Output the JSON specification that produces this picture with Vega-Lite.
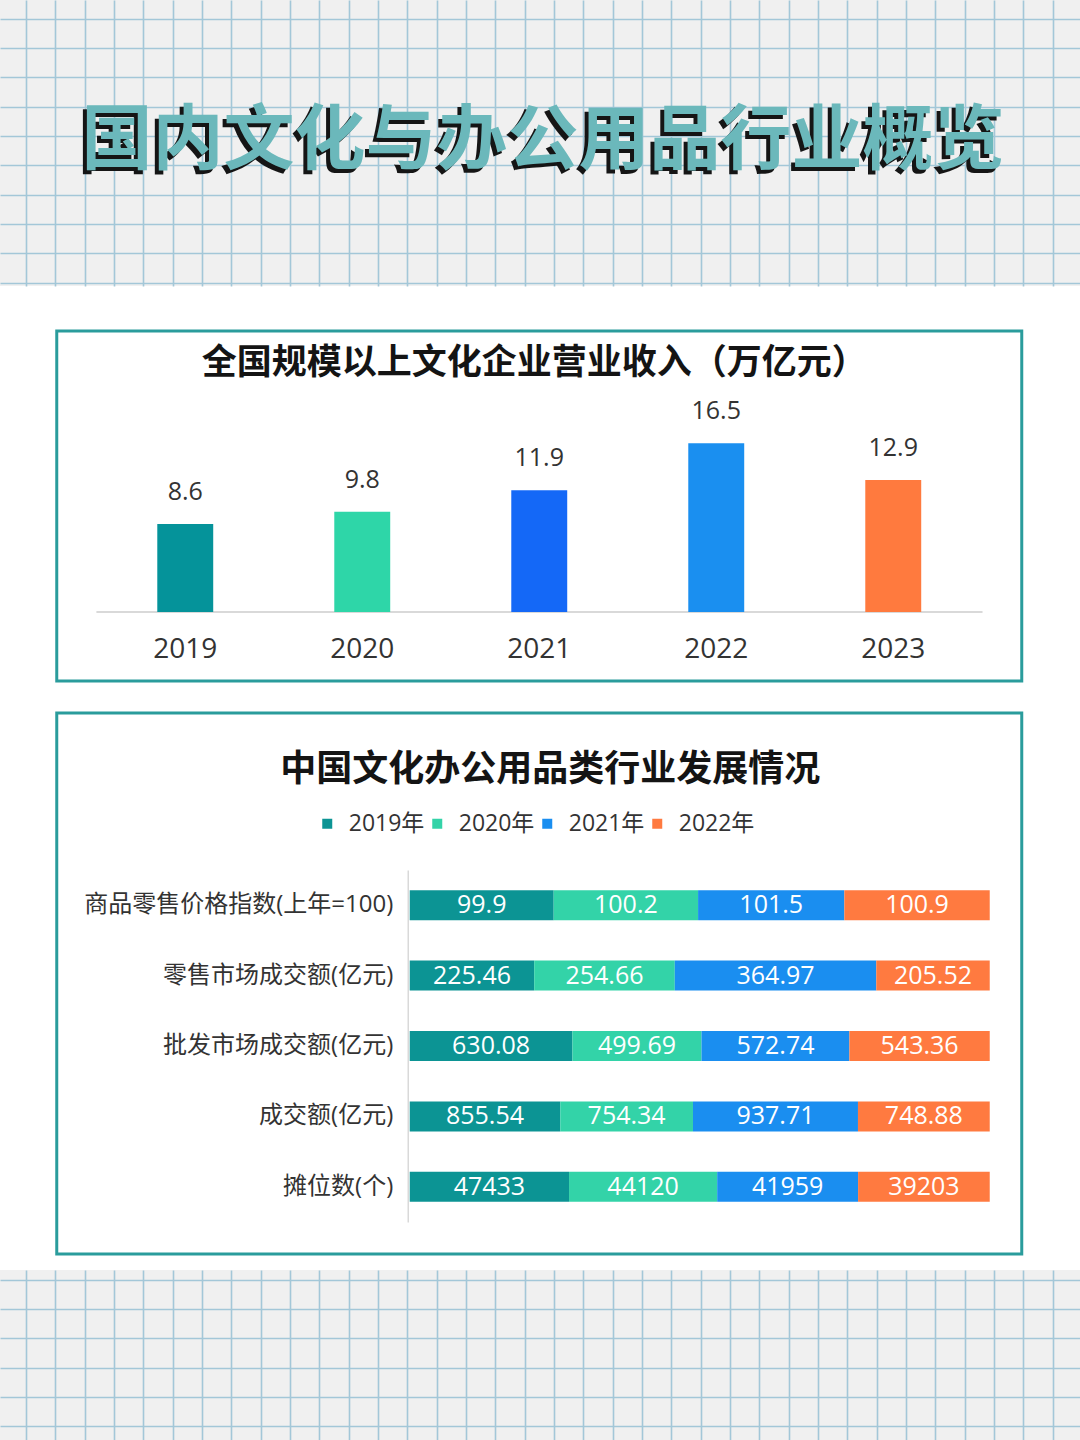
{
  "$schema": "https://vega.github.io/schema/vega-lite/v6.json",
  "padding": 0,
  "background": "#ffffff",
  "config": {
    "font": "Open Sans, Noto Sans CJK SC",
    "view": {"stroke": null}
  },
  "datasets": {
    "revenue": [
      {"year": "2019", "value": 8.6},
      {"year": "2020", "value": 9.8},
      {"year": "2021", "value": 11.9},
      {"year": "2022", "value": 16.5},
      {"year": "2023", "value": 12.9}
    ],
    "industry": [
      {"metric": "商品零售价格指数(上年=100)", "year": "2019年", "value": 99.9},
      {"metric": "商品零售价格指数(上年=100)", "year": "2020年", "value": 100.2},
      {"metric": "商品零售价格指数(上年=100)", "year": "2021年", "value": 101.5},
      {"metric": "商品零售价格指数(上年=100)", "year": "2022年", "value": 100.9},
      {"metric": "零售市场成交额(亿元)", "year": "2019年", "value": 225.46},
      {"metric": "零售市场成交额(亿元)", "year": "2020年", "value": 254.66},
      {"metric": "零售市场成交额(亿元)", "year": "2021年", "value": 364.97},
      {"metric": "零售市场成交额(亿元)", "year": "2022年", "value": 205.52},
      {"metric": "批发市场成交额(亿元)", "year": "2019年", "value": 630.08},
      {"metric": "批发市场成交额(亿元)", "year": "2020年", "value": 499.69},
      {"metric": "批发市场成交额(亿元)", "year": "2021年", "value": 572.74},
      {"metric": "批发市场成交额(亿元)", "year": "2022年", "value": 543.36},
      {"metric": "成交额(亿元)", "year": "2019年", "value": 855.54},
      {"metric": "成交额(亿元)", "year": "2020年", "value": 754.34},
      {"metric": "成交额(亿元)", "year": "2021年", "value": 937.71},
      {"metric": "成交额(亿元)", "year": "2022年", "value": 748.88},
      {"metric": "摊位数(个)", "year": "2019年", "value": 47433},
      {"metric": "摊位数(个)", "year": "2020年", "value": 44120},
      {"metric": "摊位数(个)", "year": "2021年", "value": 41959},
      {"metric": "摊位数(个)", "year": "2022年", "value": 39203}
    ],
    "heading": [{"title": "国内文化与办公用品行业概览"}]
  },
  "resolve": {"scale": {"color": "independent"}, "legend": {"color": "independent"}},
  "center": true,
  "spacing": 14,
  "vconcat": [
    {
      "center": true,
      "spacing": 43,
      "resolve": {"scale": {"color": "independent"}, "legend": {"color": "independent"}},
      "vconcat": [
        {
          "width": 1080,
          "height": 286,
          "view": {"fill": "#f0f0f0", "stroke": null},
          "data": {"name": "heading"},
          "encoding": {
            "x": {"datum": 543, "type": "quantitative", "scale": {"domain": [0, 1080], "nice": false, "zero": false},
              "axis": {"grid": true, "labels": false, "ticks": false, "domain": false, "title": null, "gridColor": "#a3c7d8", "gridWidth": 1.6, "gridOpacity": 1,
                "values": [26, 55.3, 84.7, 114, 143.3, 172.7, 202, 231.3, 260.7, 290, 319.3, 348.7, 378, 407.3, 436.7, 466, 495.3, 524.7, 554, 583.3, 612.7, 642, 671.3, 700.7, 730, 759.3, 788.7, 818, 847.3, 876.7, 906, 935.3, 964.7, 994, 1023.3, 1052.7]}},
            "y": {"datum": 142, "type": "quantitative", "scale": {"domain": [286, 0], "nice": false, "zero": false},
              "axis": {"grid": true, "labels": false, "ticks": false, "domain": false, "title": null, "gridColor": "#a3c7d8", "gridWidth": 1.6, "gridOpacity": 1,
                "values": [18.7, 48, 77.3, 106.7, 136, 165.3, 194.7, 224, 253.3, 282.7]}},
            "text": {"field": "title", "type": "nominal"}
          },
          "layer": [
            {"mark": {"type": "text", "font": "Noto Sans CJK SC", "fontWeight": "bold", "fontSize": 71, "color": "#151515", "dx": -4, "dy": 4, "baseline": "middle", "align": "center"}},
            {"mark": {"type": "text", "font": "Noto Sans CJK SC", "fontWeight": "bold", "fontSize": 71, "color": "#6bb8bb", "baseline": "middle", "align": "center"}}
          ]
        },
        {
          "spacing": 28,
          "resolve": {"scale": {"color": "independent"}, "legend": {"color": "independent"}},
          "vconcat": [
            {
              "width": 965,
              "height": 350,
              "view": {"fill": "#ffffff", "stroke": "#2a9c9c", "strokeWidth": 3},
              "title": {"text": "全国规模以上文化企业营业收入（万亿元）", "font": "Noto Sans CJK SC", "fontSize": 35, "fontWeight": "bold", "color": "#141414", "offset": -50, "anchor": "middle", "dx": -5},
              "data": {"name": "revenue"},
              "resolve": {"scale": {"x": "independent"}, "axis": {"x": "independent"}},
              "layer": [
                {
                  "mark": {"type": "rule", "color": "#d9d9d9", "strokeWidth": 1.5},
                  "encoding": {
                    "x": {"datum": 0.0415, "type": "quantitative", "scale": {"domain": [0, 1], "nice": false, "zero": false}, "axis": null},
                    "x2": {"datum": 0.959},
                    "y": {"datum": 0, "type": "quantitative", "scale": {"domain": [-6.745, 27.47], "nice": false, "zero": false}, "axis": null}
                  }
                },
                {
                  "encoding": {
                    "x": {"field": "year", "type": "ordinal", "scale": {"paddingInner": 0.684, "paddingOuter": 0.568},
                      "axis": {"title": null, "orient": "bottom", "offset": -69, "domain": false, "ticks": false, "labelPadding": 23, "labelFontSize": 28, "labelColor": "#333333", "labelAngle": 0, "labelFont": "Open Sans"}},
                    "y": {"field": "value", "type": "quantitative", "scale": {"domain": [-6.745, 27.47], "nice": false, "zero": false}, "axis": null}
                  },
                  "layer": [
                    {
                      "mark": {"type": "bar"},
                      "encoding": {
                        "y2": {"datum": 0},
                        "color": {"field": "year", "type": "nominal", "scale": {"domain": ["2019", "2020", "2021", "2022", "2023"], "range": ["#05939a", "#2ed6a8", "#1468f7", "#1a8ff0", "#ff7a3e"]}, "legend": null}
                      }
                    },
                    {
                      "mark": {"type": "text", "baseline": "alphabetic", "dy": -24, "fontSize": 25, "color": "#333333", "font": "Open Sans"},
                      "encoding": {"text": {"field": "value", "type": "nominal"}}
                    }
                  ]
                }
              ]
            },
            {
              "width": 965,
              "height": 541,
              "view": {"fill": "#ffffff", "stroke": "#2a9c9c", "strokeWidth": 3},
              "title": {"text": "中国文化办公用品类行业发展情况", "font": "Noto Sans CJK SC", "fontSize": 36, "fontWeight": "bold", "color": "#141414", "offset": -76, "anchor": "middle", "dx": 11},
              "data": {"name": "industry"},
              "encoding": {
                "y": {"field": "metric", "type": "nominal", "sort": ["商品零售价格指数(上年=100)", "零售市场成交额(亿元)", "批发市场成交额(亿元)", "成交额(亿元)", "摊位数(个)"],
                  "scale": {"range": [157, 509], "paddingInner": 0.574, "paddingOuter": 0.287},
                  "axis": {"title": null, "orient": "left", "offset": -351, "domain": true, "domainColor": "#d9d9d9", "domainWidth": 1.5, "ticks": false, "labelPadding": 15, "labelFontSize": 24, "labelColor": "#333333", "labelLimit": 400}},
                "order": {"field": "year"}
              },
              "layer": [
                {
                  "mark": {"type": "bar"},
                  "encoding": {
                    "x": {"field": "value", "type": "quantitative", "stack": "normalize", "scale": {"domain": [-0.6086, 1.0552], "nice": false, "zero": false}, "axis": null},
                    "color": {"field": "year", "type": "nominal", "scale": {"domain": ["2019年", "2020年", "2021年", "2022年"], "range": ["#0c9494", "#33d3a8", "#1a8ef0", "#ff7a40"]},
                      "legend": {"title": null, "orient": "none", "legendX": 259, "legendY": 99, "direction": "horizontal", "symbolType": "square", "symbolSize": 100, "labelFontSize": 23, "labelColor": "#333333", "labelOffset": 10, "columnPadding": 1, "padding": 0}}
                  }
                },
                {
                  "mark": {"type": "text", "color": "#ffffff", "fontSize": 25, "font": "Open Sans", "baseline": "middle"},
                  "encoding": {
                    "x": {"field": "value", "type": "quantitative", "stack": "normalize", "bandPosition": 0.5},
                    "text": {"field": "value", "type": "nominal"}
                  }
                }
              ]
            }
          ]
        }
      ]
    },
    {
      "width": 1080,
      "height": 172,
      "view": {"fill": "#f0f0f0", "stroke": null},
      "data": {"values": []},
      "mark": {"type": "point", "opacity": 0},
      "encoding": {
        "x": {"datum": 0, "type": "quantitative", "scale": {"domain": [0, 1080], "nice": false, "zero": false},
          "axis": {"grid": true, "labels": false, "ticks": false, "domain": false, "title": null, "gridColor": "#a3c7d8", "gridWidth": 1.6, "gridOpacity": 1,
            "values": [26, 55.3, 84.7, 114, 143.3, 172.7, 202, 231.3, 260.7, 290, 319.3, 348.7, 378, 407.3, 436.7, 466, 495.3, 524.7, 554, 583.3, 612.7, 642, 671.3, 700.7, 730, 759.3, 788.7, 818, 847.3, 876.7, 906, 935.3, 964.7, 994, 1023.3, 1052.7]}},
        "y": {"datum": 0, "type": "quantitative", "scale": {"domain": [172, 0], "nice": false, "zero": false},
          "axis": {"grid": true, "labels": false, "ticks": false, "domain": false, "title": null, "gridColor": "#a3c7d8", "gridWidth": 1.6, "gridOpacity": 1,
            "values": [9.7, 39, 68.3, 97.7, 127, 156.3]}}
      }
    }
  ]
}
